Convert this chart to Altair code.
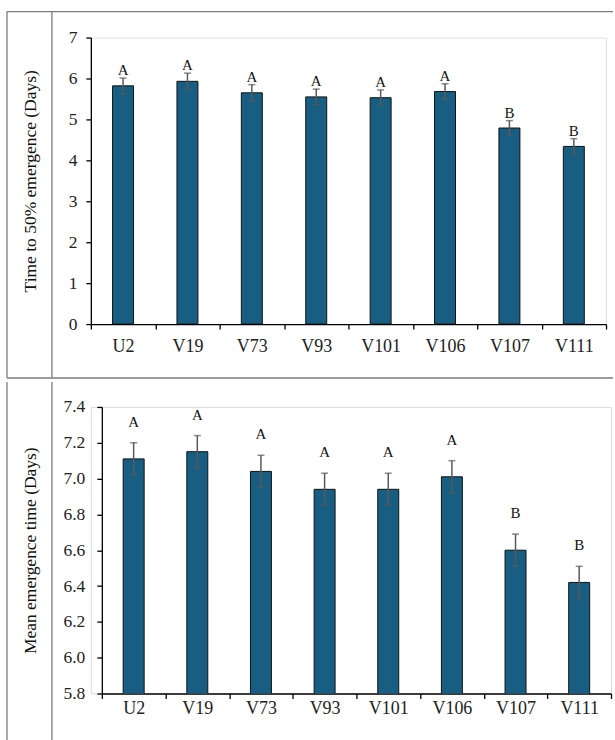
import altair as alt
import pandas as pd

varieties = ["U2", "V19", "V73", "V93", "V101", "V106", "V107", "V111"]

t50_mean = [5.82, 5.93, 5.65, 5.55, 5.53, 5.68, 4.79, 4.34]
t50_err = [0.19, 0.20, 0.20, 0.19, 0.19, 0.19, 0.18, 0.19]
t50_letters = ["A", "A", "A", "A", "A", "A", "B", "B"]
t50_ticks = [0, 1, 2, 3, 4, 5, 6, 7]

met_mean = [7.11, 7.15, 7.04, 6.94, 6.94, 7.01, 6.60, 6.42]
met_err = [0.09, 0.09, 0.09, 0.09, 0.09, 0.09, 0.09, 0.09]
met_letters = ["A", "A", "A", "A", "A", "A", "B", "B"]
met_ticks = [5.8, 6.0, 6.2, 6.4, 6.6, 6.8, 7.0, 7.2, 7.4]

FONT = "Liberation Serif"
BAR = "#175E82"
FRAME = "#7d7d7d"


def panel(means, errs, letters, ticks, fmt, title, width, height, x_range,
          y_offset, title_x, label_pad, x_label_pad, letter_dy, frame):
    df = pd.DataFrame({
        "variety": varieties,
        "mean": means,
        "lo": [m - e for m, e in zip(means, errs)],
        "hi": [m + e for m, e in zip(means, errs)],
        "letter": letters,
    })
    base = alt.Chart(df)
    xaxis = alt.Axis(title=None, labelAngle=0, tickBand="extent",
                     tickSize=5, labelPadding=x_label_pad, labelFont=FONT,
                     labelFontSize=18, labelColor="#222222",
                     domainColor="#000000", tickColor="#000000",
                     domainWidth=1.3, tickWidth=1.3)
    xscale = alt.Scale(paddingInner=0, paddingOuter=0, range=x_range)
    yaxis = alt.Axis(values=ticks, format=fmt, grid=False, tickSize=5,
                     labelOverlap=False, offset=y_offset,
                     labelPadding=label_pad, labelFont=FONT,
                     labelFontSize=17.5, labelColor="#222222",
                     domainColor="#000000", tickColor="#000000",
                     domainWidth=1.3, tickWidth=1.3,
                     title=title, titleFont=FONT, titleFontSize=17.5,
                     titleFontWeight="normal", titleColor="#111111",
                     titleX=title_x, titleBaseline="middle")
    yscale = alt.Scale(domain=[ticks[0], ticks[-1]], zero=False, nice=False)

    def X():
        return alt.X("variety:N", sort=varieties, scale=xscale, axis=xaxis)

    def Y(field):
        return alt.Y(field, scale=yscale, axis=yaxis)

    bars = base.mark_bar(width=21, color=BAR, stroke="#111111",
                         strokeWidth=1, clip=True).encode(x=X(), y=Y("mean:Q"))
    err = base.mark_rule(color="#595959", strokeWidth=1.5).encode(
        x=X(), y=Y("lo:Q"), y2="hi:Q")
    cap_lo = base.mark_tick(color="#595959", size=7, thickness=1.5).encode(
        x=X(), y=Y("lo:Q"))
    cap_hi = base.mark_tick(color="#595959", size=7, thickness=1.5).encode(
        x=X(), y=Y("hi:Q"))
    txt = base.mark_text(font=FONT, fontSize=15, color="#111111",
                         baseline="middle", dy=letter_dy).encode(
        x=X(), y=Y("hi:Q"), text="letter:N")

    fdf = pd.DataFrame(frame)
    frame_lines = alt.Chart(fdf).mark_rule(color=FRAME, strokeWidth=1.3).encode(
        x=alt.X("x1:Q", scale=None), x2="x2:Q",
        y=alt.Y("y1:Q", scale=None), y2="y2:Q")

    return alt.layer(bars, err, cap_lo, cap_hi, txt, frame_lines).properties(
        width=width, height=height)


top_frame = {
    "x1": [-84, -84, -39, -84],
    "x2": [523, -84, -39, 523],
    "y1": [-26, -26, -26, 341],
    "y2": [-26, 341, 341, 341],
}
bottom_frame = {
    "x1": [-84, -39],
    "x2": [-84, -39],
    "y1": [-25, -25],
    "y2": [335, 335],
}

top = panel(t50_mean, t50_err, t50_letters, t50_ticks, "d",
            "Time to 50% emergence (Days)", 516, 287, [0, 516], 0,
            -60, 9, 8, -8, top_frame)
bottom = panel(met_mean, met_err, met_letters, met_ticks, ".1f",
               "Mean emergence time (Days)", 521, 287, [11, 521], -11,
               -71, 12, 1, -21, bottom_frame)

chart = alt.vconcat(top, bottom, spacing=0).properties(
    padding={"left": 5, "top": 9, "right": 0, "bottom": 0}
).configure_view(stroke=None).configure(background="white")

chart.save("out.html", embed_options={"renderer": "svg", "actions": False})
